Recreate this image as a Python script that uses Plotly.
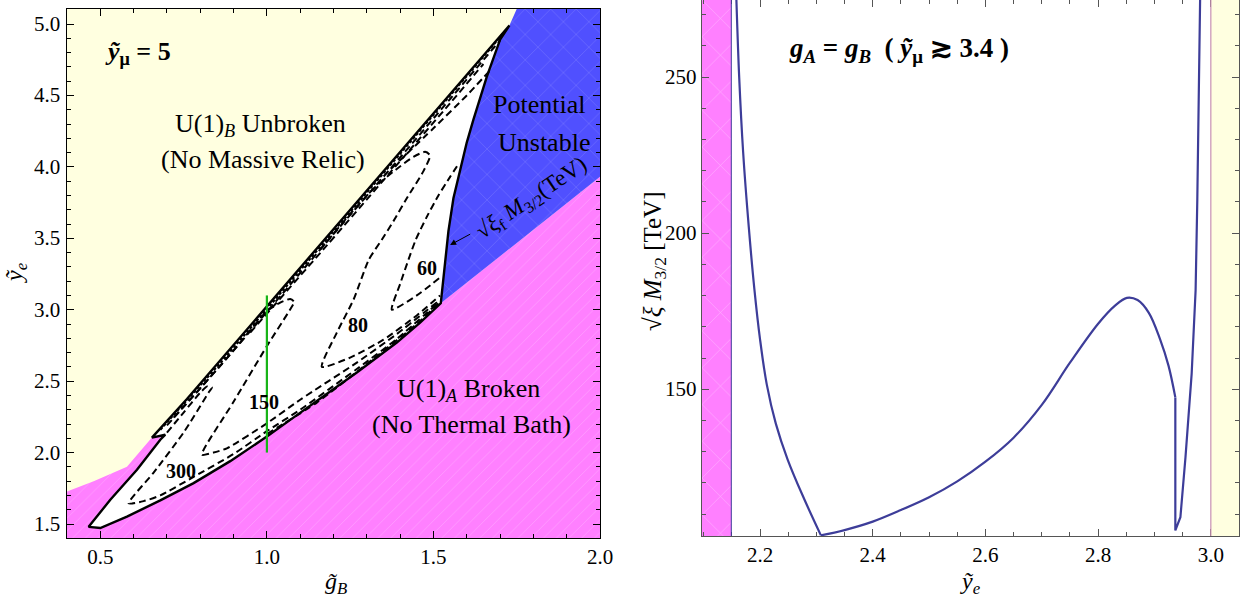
import plotly.graph_objects as go

# ---------------- Left panel data (g_B , y_e) ----------------
x_range_left = [0.4, 2.0]
y_range_left = [1.402, 5.105]
left_xticks = [0.5, 1.0, 1.5, 2.0]
left_yticks = [1.5, 2.0, 2.5, 3.0, 3.5, 4.0, 4.5, 5.0]

# upper-left boundary of allowed (white) region, notch -> top tip
ub_x = [0.655, 0.76, 0.865, 1.0, 1.18, 1.396, 1.55, 1.728]
ub_y = [2.105, 2.375, 2.655, 3.02, 3.51, 4.09, 4.51, 4.99]
# notch + left side of the lower tongue
tongue_x = [0.695, 0.68, 0.61, 0.53, 0.465]
tongue_y = [2.125, 2.09, 1.88, 1.67, 1.48]
# lower boundary (U(1)_A broken edge)
lb_x = [0.465, 0.50, 0.58, 0.68, 0.78, 0.89, 1.0, 1.07, 1.15, 1.27, 1.39, 1.46, 1.522]
lb_y = [1.48, 1.472, 1.552, 1.665, 1.786, 1.94, 2.112, 2.229, 2.36, 2.56, 2.77, 2.91, 3.045]
# right boundary (potential unstable edge)
br_x = [1.522, 1.527, 1.535, 1.545, 1.56, 1.58, 1.60, 1.62, 1.66, 1.70, 1.728]
br_y = [3.045, 3.15, 3.35, 3.55, 3.78, 3.98, 4.17, 4.33, 4.63, 4.89, 4.99]
# yellow / pink border on the far left
yp_x = [0.4, 0.4, 0.48, 0.58, 0.655, 0.695]
yp_y = [1.402, 1.727, 1.80, 1.90, 2.105, 2.125]
# pink / blue border and blue / yellow border
pb_x = [1.522, 2.0]
pb_y = [3.045, 3.93]
by_x = [1.728, 1.75]
by_y = [4.99, 5.105]

# dashed contours of sqrt(xi) M_3/2
c300_x = [0.70, 0.75, 0.80, 0.822, 0.835, 0.825, 0.75, 0.66, 0.585, 0.63, 0.68, 0.78, 0.90, 1.0, 1.10, 1.27, 1.39, 1.515]
c300_y = [2.14, 2.28, 2.42, 2.465, 2.455, 2.42, 2.14, 1.86, 1.645, 1.66, 1.70, 1.83, 1.99, 2.15, 2.30, 2.585, 2.795, 3.05]
c150_x = [0.72, 0.80, 0.90, 1.0, 1.04, 1.07, 1.082, 1.072, 1.0, 0.90, 0.805, 0.84, 0.88, 1.0, 1.10, 1.27, 1.39, 1.515]
c150_y = [2.245, 2.45, 2.715, 2.99, 3.05, 3.075, 3.055, 3.01, 2.745, 2.355, 1.985, 2.0, 2.03, 2.205, 2.37, 2.63, 2.83, 3.06]
c80_x = [1.16, 1.25, 1.33, 1.387, 1.44, 1.475, 1.49, 1.47, 1.42, 1.38, 1.345, 1.306, 1.26, 1.21, 1.165, 1.25, 1.35, 1.45, 1.52]
c80_y = [3.42, 3.67, 3.87, 3.98, 4.07, 4.105, 4.08, 3.97, 3.78, 3.62, 3.49, 3.35, 3.07, 2.84, 2.60, 2.665, 2.79, 2.96, 3.10]
c60_x = [1.517, 1.45, 1.375, 1.40, 1.425, 1.447, 1.48, 1.515, 1.55, 1.575]
c60_y = [3.22, 3.10, 3.00, 3.18, 3.35, 3.49, 3.65, 3.80, 3.93, 4.02]
cx_x = [1.668, 1.60, 1.50, 1.37]
cx_y = [4.67, 4.50, 4.27, 3.98]
band0_x = [0.68, 0.865, 1.0, 1.18, 1.396, 1.55, 1.71]
band0_y = [2.16, 2.64, 3.005, 3.495, 4.075, 4.495, 4.935]
band1_x = [0.70, 0.865, 1.0, 1.18, 1.396, 1.55, 1.70]
band1_y = [2.19, 2.62, 2.985, 3.475, 4.055, 4.475, 4.885]
band2_x = [0.95, 1.18, 1.396, 1.55, 1.65]
band2_y = [2.84, 3.45, 4.03, 4.445, 4.72]
band3_x = [1.0, 1.15, 1.30, 1.45, 1.515]
band3_y = [2.13, 2.35, 2.62, 2.90, 3.045]

green_x = [1.0, 1.0]
green_y = [2.0, 3.1]

# ---------------- Right panel data (y_e , sqrt(xi) M_3/2) ----------------
x_range_right = [2.097, 3.05]
y_range_right = [103.0, 274.7]
right_xticks = [2.2, 2.4, 2.6, 2.8, 3.0]
right_yticks = [150, 200, 250]
pink_band = [2.097, 2.149]
yellow_band = [3.0, 3.05]
# left branch (falling), middle bump, right branch (rising after the drop)
ye_left = [2.158, 2.163, 2.170, 2.180, 2.190, 2.200, 2.212, 2.228, 2.249, 2.277, 2.308]
mv_left = [275, 250, 226, 202, 182, 166, 151.5, 139, 127.5, 115.4, 103.2]
ye_mid = [2.308, 2.35, 2.40, 2.45, 2.50, 2.55, 2.60, 2.65, 2.70, 2.75, 2.80,
          2.83, 2.851, 2.87, 2.89, 2.91, 2.925, 2.937]
mv_mid = [103.2, 104.9, 107.6, 111.3, 115.4, 120.5, 126.8, 134.5, 145.0, 158.5, 171.0,
          176.8, 179.3, 178.6, 174.5, 166.0, 157.5, 147.4]
ye_right = [2.937, 2.937, 2.946, 2.955, 2.966, 2.973, 2.976, 2.981]
mv_right = [147.4, 104.8, 109, 128.2, 155, 181.7, 210.6, 275]

PINK = "#FF80FF"
BLUE = "#5050FF"
YELLOW = "#FFFFE0"
CURVE = "#3D3D99"
SERIF = "Liberation Serif"
W, H = 1247, 598

fig = go.Figure()

# --- left panel fills ---
fig.add_shape(type="rect", xref="x", yref="y", x0=x_range_left[0], x1=x_range_left[1],
              y0=y_range_left[0], y1=y_range_left[1], fillcolor=YELLOW, line_width=0, layer="below")

pink_x = yp_x + pb_x + [x_range_left[1], x_range_left[1]]
pink_y = yp_y + pb_y + [y_range_left[0], y_range_left[0]]
fig.add_trace(go.Scatter(x=pink_x, y=pink_y, fill="toself", fillcolor=PINK, mode="none",
                         fillpattern=dict(shape="/", fgcolor="rgba(255,255,255,0.35)", bgcolor=PINK,
                                          size=9, solidity=0.06),
                         hoverinfo="skip", xaxis="x", yaxis="y"))

blue_x = by_x + [x_range_left[1], x_range_left[1]] + pb_x[::-1] + br_x
blue_y = by_y + [y_range_left[1], pb_y[1]] + pb_y[::-1] + br_y
fig.add_trace(go.Scatter(x=blue_x, y=blue_y, fill="toself", fillcolor=BLUE, mode="none",
                         fillpattern=dict(shape="x", fgcolor="rgba(255,255,255,0.25)", bgcolor=BLUE,
                                          size=18, solidity=0.05),
                         hoverinfo="skip", xaxis="x", yaxis="y"))

white_x = ub_x[::-1] + tongue_x + lb_x[1:] + br_x[1:]
white_y = ub_y[::-1] + tongue_y + lb_y[1:] + br_y[1:]
fig.add_trace(go.Scatter(x=white_x, y=white_y, fill="toself", fillcolor="white", mode="lines",
                         line=dict(color="black", width=2.4), hoverinfo="skip", xaxis="x", yaxis="y"))

fig.add_trace(go.Scatter(x=band0_x, y=band0_y, mode="lines",
                         line=dict(color="black", width=2.2, dash="3px,2px"),
                         hoverinfo="skip", xaxis="x", yaxis="y"))
for cxs, cys in [(c300_x, c300_y), (c150_x, c150_y), (c80_x, c80_y), (c60_x, c60_y),
                 (cx_x, cx_y), (band1_x, band1_y), (band2_x, band2_y), (band3_x, band3_y)]:
    fig.add_trace(go.Scatter(x=cxs, y=cys, mode="lines", line_shape="spline",
                             line=dict(color="black", width=2, dash="7px,4px", smoothing=0.6),
                             hoverinfo="skip", xaxis="x", yaxis="y"))

fig.add_trace(go.Scatter(x=green_x, y=green_y, mode="lines", line=dict(color="#18B418", width=2.2),
                         hoverinfo="skip", xaxis="x", yaxis="y"))

# --- right panel ---
fig.add_trace(go.Scatter(x=[pink_band[0], pink_band[1], pink_band[1], pink_band[0]],
                         y=[y_range_right[0], y_range_right[0], y_range_right[1], y_range_right[1]],
                         fill="toself", fillcolor=PINK, mode="none",
                         fillpattern=dict(shape="x", fgcolor="rgba(255,255,255,0.45)", bgcolor=PINK,
                                          size=26, solidity=0.04),
                         hoverinfo="skip", xaxis="x2", yaxis="y2"))
fig.add_shape(type="line", xref="x2", yref="y2 domain", x0=pink_band[1], x1=pink_band[1], y0=0, y1=1,
              line=dict(color=CURVE, width=1))
fig.add_shape(type="rect", xref="x2", yref="y2 domain", x0=yellow_band[0], x1=yellow_band[1], y0=0, y1=1,
              fillcolor=YELLOW, line_width=0, layer="below")
fig.add_shape(type="line", xref="x2", yref="y2 domain", x0=yellow_band[0], x1=yellow_band[0], y0=0, y1=1,
              line=dict(color="#C890B4", width=1.2))
for xs, ys, shp in [(ye_left, mv_left, "spline"), (ye_mid, mv_mid, "spline"), (ye_right, mv_right, "linear")]:
    fig.add_trace(go.Scatter(x=xs, y=ys, mode="lines", line_shape=shp,
                             line=dict(color=CURVE, width=2.2),
                             hoverinfo="skip", xaxis="x2", yaxis="y2"))

# --- axes ---
tickfont = dict(family=SERIF, size=21, color="black")
common = dict(showgrid=False, zeroline=False, showline=True, mirror="ticks", ticks="inside",
              tickfont=tickfont, ticklen=7, tickwidth=1, automargin=False)
fig.update_layout(
    template="none",
    width=W, height=H, autosize=False, margin=dict(l=0, r=0, t=0, b=0, pad=0),
    paper_bgcolor="white", plot_bgcolor="white", showlegend=False,
    xaxis=dict(domain=[67/W, 600/W], range=x_range_left, tickvals=left_xticks, tickformat=".1f",
               linecolor="black", tickcolor="black",
               minor=dict(dtick=0.1, tick0=0.4, ticks="inside", ticklen=4, tickcolor="black"), **common),
    yaxis=dict(domain=[1 - 538/H, 1 - 9/H], range=y_range_left, tickvals=left_yticks,
               showticklabels=False, linecolor="black", tickcolor="black",
               minor=dict(dtick=0.1, tick0=1.5, ticks="inside", ticklen=4, tickcolor="black"), **common),
    xaxis2=dict(domain=[702/W, 1239/W], range=x_range_right, tickvals=right_xticks, tickformat=".1f",
                anchor="y2", linecolor="#555555", tickcolor="#555555",
                minor=dict(dtick=0.05, tick0=2.1, ticks="inside", ticklen=4, tickcolor="#555555"), **common),
    yaxis2=dict(domain=[1 - 536/H, 1.0], range=y_range_right, tickvals=right_yticks,
                showticklabels=False, anchor="x2", linecolor="#555555", tickcolor="#555555",
                minor=dict(dtick=10, tick0=100, ticks="inside", ticklen=4, tickcolor="#555555"), **common),
)

# y tick labels placed close to the frame, as in the reference
for v in left_yticks:
    fig.add_annotation(text=f"{v:.1f}", x=62/W, y=v, xref="paper", yref="y", xanchor="right",
                       yanchor="middle", showarrow=False, font=tickfont)
for v in right_yticks:
    fig.add_annotation(text=f"{v}", x=699/W, y=v, xref="paper", yref="y2", xanchor="right",
                       yanchor="middle", showarrow=False, font=tickfont)

def ann(text, x, y, ref="", size=26, **kw):
    fig.add_annotation(text=text, x=x, y=y, xref="x" + ref, yref="y" + ref, showarrow=False,
                       font=dict(family=SERIF, size=size, color="black"), **kw)

ann("<b><i>ỹ</i><sub>μ</sub> = 5</b>", 0.509, 4.80, size=26, xanchor="left")
ann("U(1)<sub><i>B</i></sub> Unbroken", 0.98, 4.293)
ann("(No Massive Relic)", 0.989, 4.055)
ann("Potential", 1.817, 4.44)
ann("Unstable", 1.832, 4.17)
ann("U(1)<sub><i>A</i></sub> Broken", 1.604, 2.44)
ann("(No Thermal Bath)", 1.613, 2.196)
ann("<b>60</b>", 1.481, 3.293, size=20)
ann("<b>80</b>", 1.274, 2.894, size=20)
ann("<b>150</b>", 0.992, 2.351, size=20)
ann("<b>300</b>", 0.742, 1.874, size=20)
ann("√<i>ξ</i><sub>f</sub> <i>M</i><sub>3/2</sub>(TeV)", 1.795, 3.775, size=23, textangle=-34)
fig.add_annotation(x=1.55, y=3.453, ax=1.615, ay=3.535, xref="x", yref="y", axref="x", ayref="y",
                   showarrow=True, arrowhead=2, arrowsize=1.2, arrowwidth=1, arrowcolor="black", text="")
ann("<b><i>g<sub>A</sub></i> = <i>g<sub>B</sub></i>  ( <i>ỹ</i><sub>μ</sub> ≳ 3.4 )</b>", 2.447, 258.7, ref="2", size=27)

def title(text, px, py, angle=0, size=24):
    fig.add_annotation(text=text, x=px/W, y=1 - py/H, xref="paper", yref="paper", showarrow=False,
                       xanchor="center", yanchor="middle", textangle=angle,
                       font=dict(family=SERIF, size=size, color="black"))

title("<i>g\u0303</i><sub><i>B</i></sub>", 336, 583)
title("<i>ỹ</i><sub><i>e</i></sub>", 971, 583)
title("<i>ỹ</i><sub><i>e</i></sub>", 16, 273, angle=-90)
title("√<i>ξ</i> <i>M</i><sub>3/2</sub> [TeV]", 655, 262, angle=-90, size=25)

fig.write_html(
    "out.html",
    config={"displayModeBar": False, "responsive": False},
    post_script=("document.documentElement.style.margin='0px';"
                 "document.body.style.margin='0px';"
                 "document.documentElement.style.overflow='hidden';"
                 "document.body.style.overflow='hidden';"),
)
